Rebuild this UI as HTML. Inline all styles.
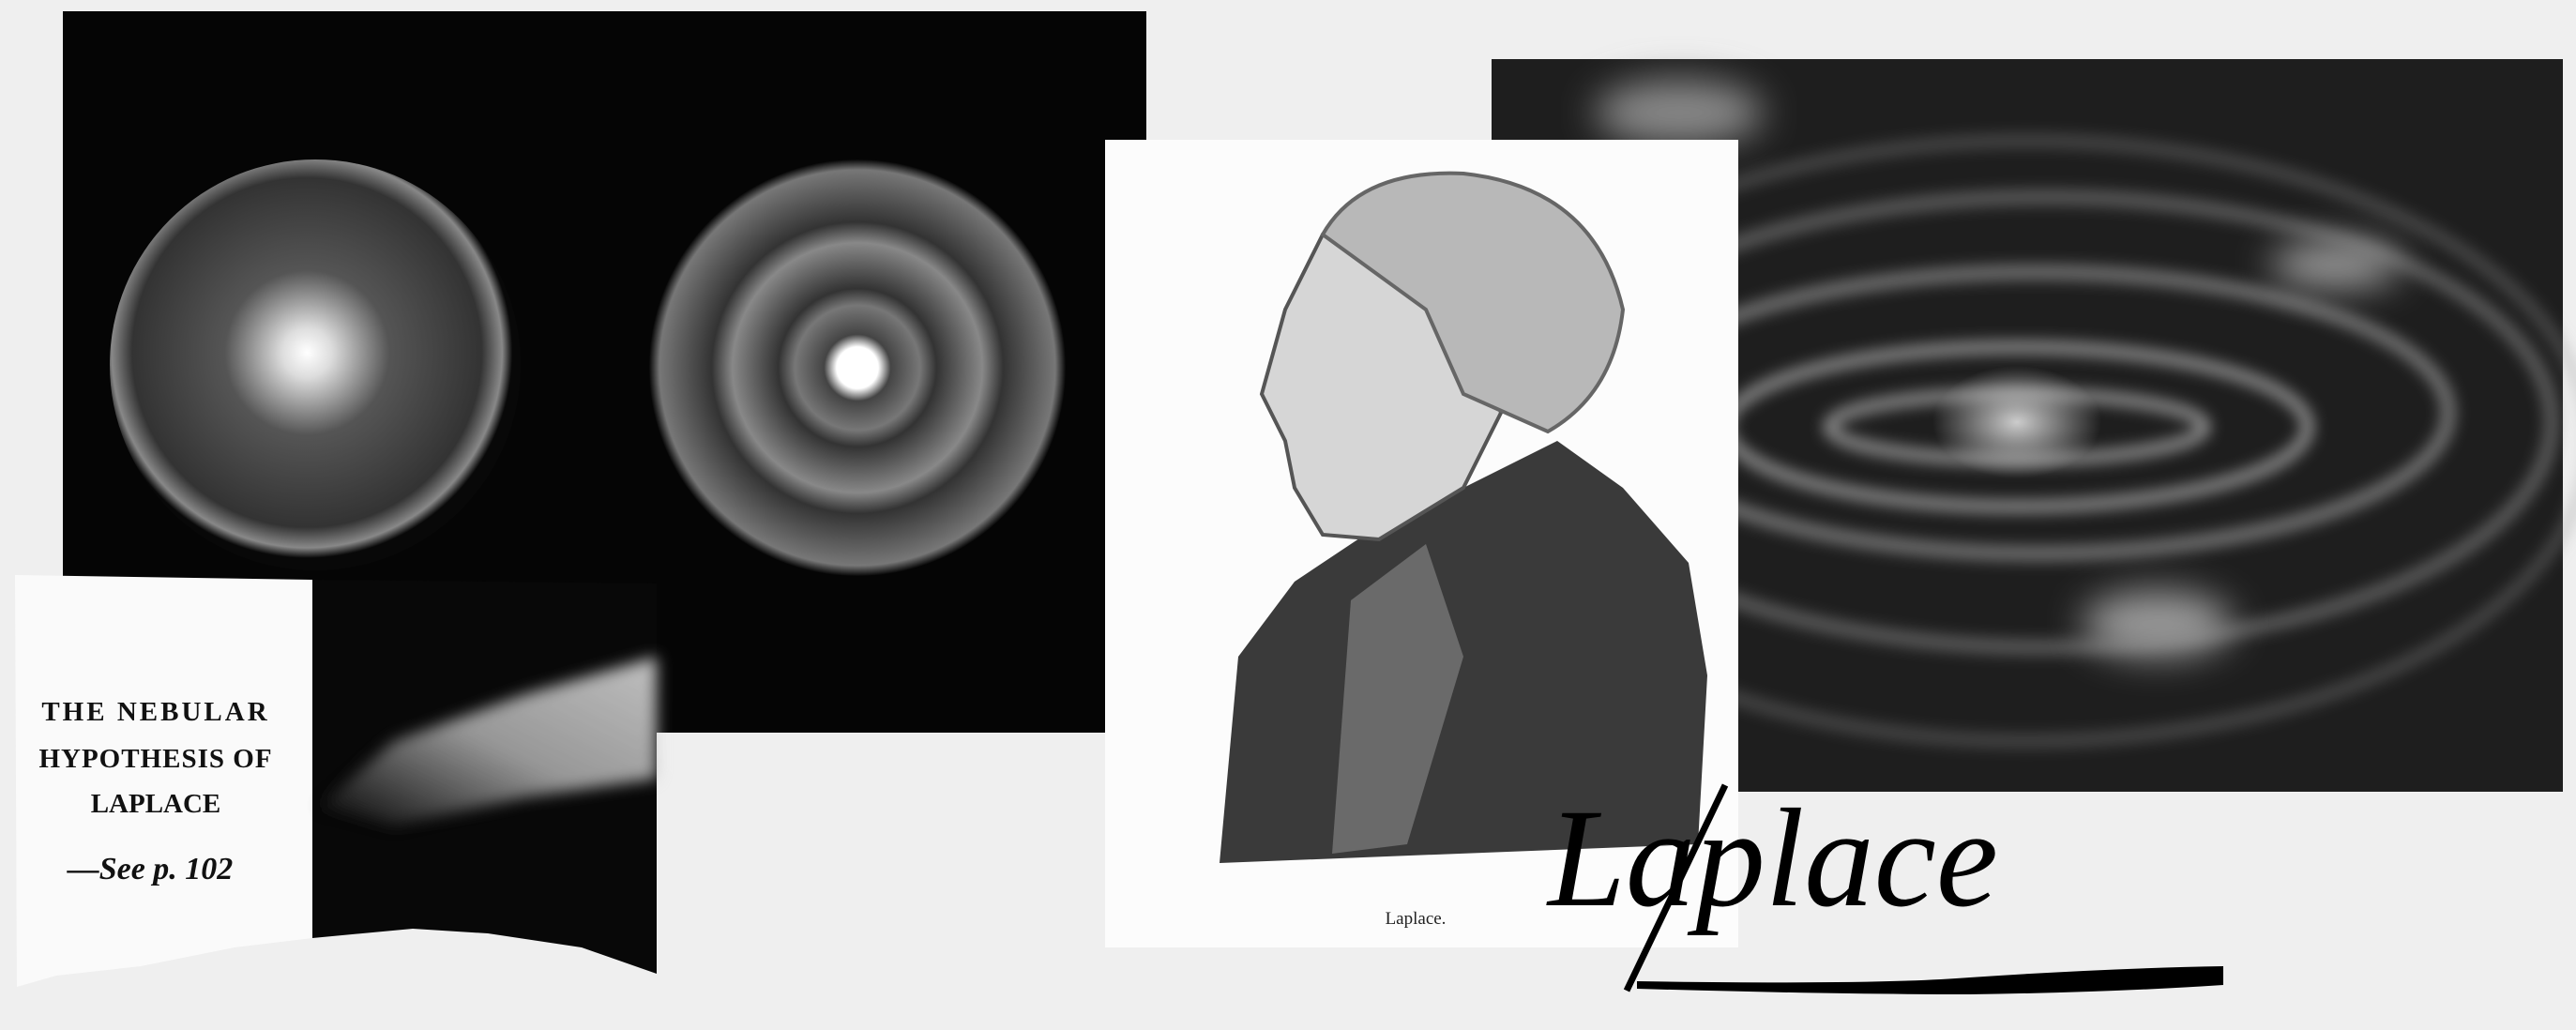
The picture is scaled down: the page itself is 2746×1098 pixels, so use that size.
<!DOCTYPE html>
<html><head><meta charset="utf-8"><style>
html,body{margin:0;padding:0;background:#efefef;}
svg{display:block}
</style></head><body>
<svg width="2746" height="1098" viewBox="0 0 2746 1098" xmlns="http://www.w3.org/2000/svg">
<defs>
 <radialGradient id="neb1" cx="0.48" cy="0.47" r="0.5">
  <stop offset="0" stop-color="#fff"/><stop offset="0.12" stop-color="#ddd"/>
  <stop offset="0.4" stop-color="#555"/><stop offset="0.85" stop-color="#333"/>
  <stop offset="0.95" stop-color="#888"/><stop offset="1" stop-color="#080808"/>
 </radialGradient>
 <radialGradient id="neb2" cx="0.5" cy="0.5" r="0.5">
  <stop offset="0" stop-color="#fff"/><stop offset="0.1" stop-color="#fff"/>
  <stop offset="0.16" stop-color="#444"/><stop offset="0.3" stop-color="#777"/>
  <stop offset="0.38" stop-color="#333"/><stop offset="0.6" stop-color="#888"/>
  <stop offset="0.7" stop-color="#333"/><stop offset="0.95" stop-color="#777"/>
  <stop offset="1" stop-color="#080808"/>
 </radialGradient>
 <radialGradient id="bulge" cx="0.5" cy="0.5" r="0.5">
  <stop offset="0" stop-color="#ccc"/><stop offset="1" stop-color="#ccc" stop-opacity="0"/>
 </radialGradient>
 <linearGradient id="streak" x1="0" y1="1" x2="1" y2="0">
  <stop offset="0" stop-color="#000"/><stop offset="0.5" stop-color="#bbb"/><stop offset="1" stop-color="#eee"/>
 </linearGradient>
 <filter id="blur8" x="-50%" y="-50%" width="200%" height="200%"><feGaussianBlur stdDeviation="8"/></filter>
 <filter id="blur20" x="-100%" y="-100%" width="300%" height="300%"><feGaussianBlur stdDeviation="20"/></filter>
</defs>

<g>
 <rect x="67" y="12" width="1155" height="769" fill="#050505"/>
 <circle cx="336" cy="389" r="219" fill="url(#neb1)"/>
 <circle cx="914" cy="392" r="222" fill="url(#neb2)"/>
</g>

<g>
 <path d="M16 613 L333 618 L333 1000 L250 1010 L150 1030 L60 1040 L18 1052 Z" fill="#fafafa"/>
 <path d="M333 618 L700 622 L700 1038 L620 1010 L520 995 L440 990 L333 1000 Z" fill="#080808"/>
 <path d="M340 860 L420 790 L560 740 L700 700 L700 830 L560 850 L420 880 Z" fill="url(#streak)" opacity="0.8" filter="url(#blur8)"/>
 <g font-family="Liberation Serif, serif" font-weight="bold" fill="#111" text-anchor="middle">
  <text x="166" y="768" font-size="29" letter-spacing="3">THE NEBULAR</text>
  <text x="166" y="818" font-size="29" letter-spacing="1">HYPOTHESIS OF</text>
  <text x="166" y="866" font-size="29">LAPLACE</text>
  <text x="160" y="937" font-size="34" font-style="italic">—See p. 102</text>
 </g>
</g>

<g>
 <rect x="1590" y="63" width="1142" height="781" fill="#1e1e1e"/>
 <g fill="none" stroke="#999" filter="url(#blur8)">
  <ellipse cx="2150" cy="455" rx="200" ry="35" stroke-width="12"/>
  <ellipse cx="2150" cy="455" rx="310" ry="85" stroke-width="12"/>
  <ellipse cx="2170" cy="440" rx="440" ry="150" stroke-width="14" opacity="0.75"/>
  <ellipse cx="2180" cy="450" rx="540" ry="240" stroke-width="14" opacity="0.55"/>
  <ellipse cx="2160" cy="470" rx="600" ry="320" stroke-width="12" opacity="0.4"/>
 </g>
 <ellipse cx="2150" cy="450" rx="90" ry="60" fill="url(#bulge)"/>
 <ellipse cx="2300" cy="665" rx="80" ry="35" fill="#999" filter="url(#blur20)"/>
 <ellipse cx="2490" cy="282" rx="70" ry="25" fill="#999" filter="url(#blur20)"/>
 <ellipse cx="1790" cy="120" rx="90" ry="35" fill="#888" filter="url(#blur20)"/>
</g>

<g>
 <rect x="1178" y="149" width="675" height="861" fill="#fcfcfc"/>
 <path d="M1300 920 L1320 700 L1380 620 L1470 560 L1560 520 L1660 470 L1730 520 L1800 600 L1820 720 L1810 900 Z" fill="#3a3a3a"/>
 <path d="M1440 640 L1520 580 L1560 700 L1500 900 L1420 910 Z" fill="#6a6a6a"/>
 <path d="M1410 250 L1370 330 L1345 420 L1370 470 L1380 520 L1410 570 L1470 575 L1560 520 L1600 440 L1560 330 L1480 240 Z" fill="#d6d6d6" stroke="#555" stroke-width="4"/>
 <path d="M1410 250 Q1450 180 1560 185 Q1700 200 1730 330 Q1720 420 1650 460 L1560 420 L1520 330 Z" fill="#b8b8b8" stroke="#666" stroke-width="4"/>
 <text x="1509" y="985" font-family="Liberation Serif, serif" font-size="19" text-anchor="middle" fill="#222">Laplace.</text>
</g>

<g>
 <path d="M1839 837 L1734 1056" stroke="#000" stroke-width="7" fill="none"/>
 <path d="M1745 1046 Q2000 1050 2100 1042 Q2250 1032 2370 1030 L2370 1050 Q2250 1058 2100 1060 Q1950 1060 1745 1054 Z" fill="#000"/>
 <text x="1650" y="965" font-family="Liberation Serif, serif" font-style="italic" font-size="150" fill="#000" textLength="480" lengthAdjust="spacingAndGlyphs">Laplace</text>
</g>
</svg>
</body></html>
